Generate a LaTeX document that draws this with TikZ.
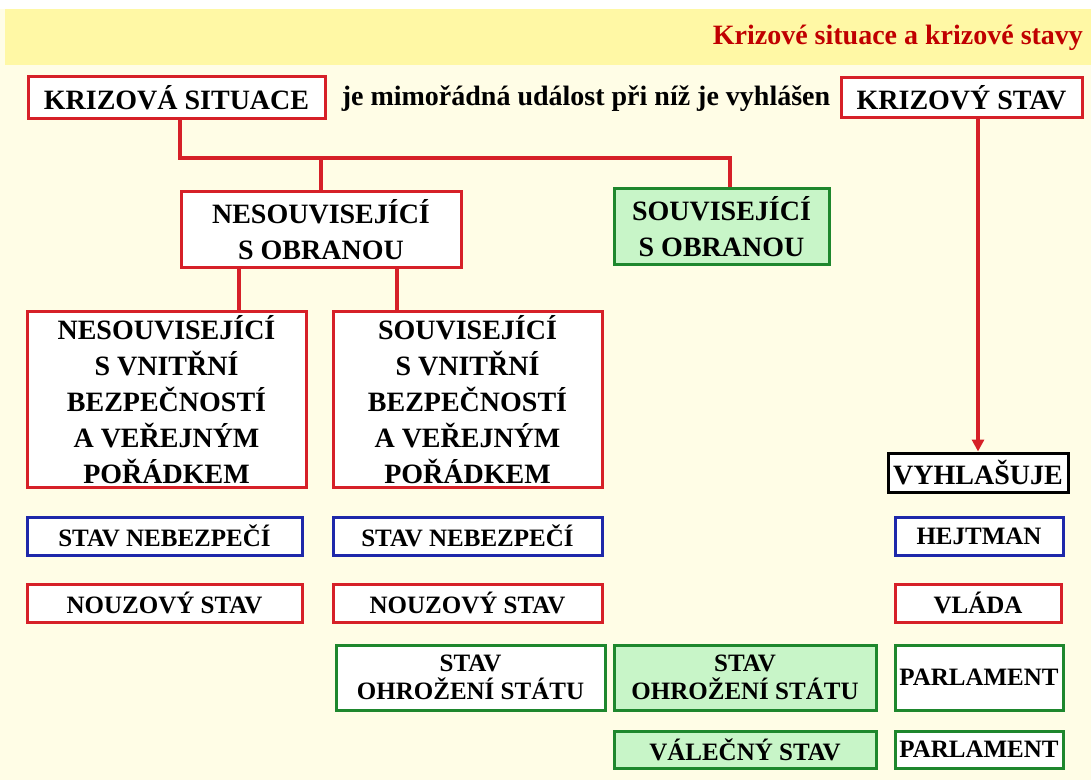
\documentclass[tikz,border=0pt]{standalone}
\usepackage{fontspec}
\setmainfont{Liberation Serif}
\usetikzlibrary{arrows.meta}
\definecolor{paper}{RGB}{255,253,230}
\definecolor{band}{RGB}{255,248,165}
\definecolor{titlered}{RGB}{192,0,0}
\definecolor{boxred}{RGB}{214,32,40}
\definecolor{boxblue}{RGB}{30,40,170}
\definecolor{boxgreen}{RGB}{30,135,45}
\definecolor{lightgreen}{RGB}{200,245,200}
\tikzstyle{box} = [draw, fill=white, line width=1.5pt, inner sep=0pt, align=center, font=\bfseries\fontsize{12.5}{14}\selectfont]
\tikzstyle{bigbox} = [box, font=\bfseries\fontsize{14}{18}\selectfont]
\tikzstyle{redbox} = [box, draw=boxred]
\tikzstyle{bluebox} = [box, draw=boxblue]
\tikzstyle{greenbox} = [box, draw=boxgreen]
\tikzstyle{link} = [draw=boxred, line width=2pt]

\begin{document}
\begin{tikzpicture}[x=0.5pt, y=-0.5pt]
    % Background and title band.
    \fill [white] (0,0) rectangle (1091,780);
    \fill [paper] (0,9) rectangle (1091,780);
    \fill [band] (5,9) rectangle (1091,65);
    \useasboundingbox (0,0) rectangle (1091,780);
    \node [anchor=east, text=titlered, font=\bfseries\fontsize{14}{16}\selectfont] (title) at (1090,38) {Krizové situace a krizové stavy};
    % Top row.
    \node [bigbox, draw=boxred, minimum width=148.5pt, minimum height=21pt] (ks) at (176.5,98) {KRIZOVÁ SITUACE};
    \node [font=\bfseries\fontsize{14}{16}\selectfont] (def) at (586,99) {je mimořádná událost při níž je vyhlášen};
    \node [bigbox, draw=boxred, minimum width=120.5pt, minimum height=20pt] (kst) at (961.5,98) {KRIZOVÝ STAV};
    % Defence split.
    \node [bigbox, draw=boxred, minimum width=140pt, minimum height=38pt] (nso) at (321,230) {NESOUVISEJÍCÍ\\S OBRANOU};
    \node [bigbox, draw=boxgreen, fill=lightgreen, minimum width=107.5pt, minimum height=38pt] (so) at (721.5,227) {SOUVISEJÍCÍ\\S OBRANOU};
    % Internal security split.
    \node [bigbox, draw=boxred, minimum width=139.5pt, minimum height=87.5pt] (nvb) at (166.5,399.5) {NESOUVISEJÍCÍ\\S VNITŘNÍ\\BEZPEČNOSTÍ\\A VEŘEJNÝM\\POŘÁDKEM};
    \node [bigbox, draw=boxred, minimum width=134.5pt, minimum height=87.5pt] (svb) at (467.5,399.5) {SOUVISEJÍCÍ\\S VNITŘNÍ\\BEZPEČNOSTÍ\\A VEŘEJNÝM\\POŘÁDKEM};
    % Who declares.
    \node [bigbox, draw=black, minimum width=90pt, minimum height=19.5pt] (vyh) at (978,472.5) {VYHLAŠUJE};
    % States.
    \node [bluebox, minimum width=137.5pt, minimum height=19pt] (neb1) at (164.5,536) {STAV NEBEZPEČÍ};
    \node [bluebox, minimum width=134.5pt, minimum height=19pt] (neb2) at (467.5,536) {STAV NEBEZPEČÍ};
    \node [bluebox, minimum width=84pt, minimum height=19pt] (hejt) at (979,536) {HEJTMAN};
    \node [redbox, minimum width=137.5pt, minimum height=19pt] (nouz1) at (164.5,603) {NOUZOVÝ STAV};
    \node [redbox, minimum width=134.5pt, minimum height=19pt] (nouz2) at (467.5,603) {NOUZOVÝ STAV};
    \node [redbox, minimum width=83pt, minimum height=19pt] (vlada) at (978,603) {VLÁDA};
    \node [greenbox, minimum width=134.5pt, minimum height=32.5pt] (ohr1) at (470.5,677.5) {STAV\\OHROŽENÍ STÁTU};
    \node [greenbox, fill=lightgreen, minimum width=131pt, minimum height=32.5pt] (ohr2) at (745,677.5) {STAV\\OHROŽENÍ STÁTU};
    \node [greenbox, minimum width=84pt, minimum height=32.5pt] (parl1) at (979,677.5) {PARLAMENT};
    \node [greenbox, fill=lightgreen, minimum width=131pt, minimum height=18.5pt] (val) at (745,749.5) {VÁLEČNÝ STAV};
    \node [greenbox, minimum width=84pt, minimum height=18.5pt] (parl2) at (979,749.5) {PARLAMENT};
    % Connectors.
    \coordinate (fork) at (180,158);
    \path [link] (ks.south -| fork) -- (fork) -| ([xshift=4pt]so.north);
    \path [link] (nso.north |- fork) -- (nso.north);
    \path [link] ([xshift=-41pt]nso.south) -- ([xshift=-41pt]nso.south |- nvb.north);
    \path [link] ([xshift=38pt]nso.south) -- ([xshift=38pt]nso.south |- svb.north);
    \path [link, -{Triangle[length=6pt, width=6pt]}] (kst.south -| vyh.north) -- (vyh.north);
\end{tikzpicture}
\end{document}
